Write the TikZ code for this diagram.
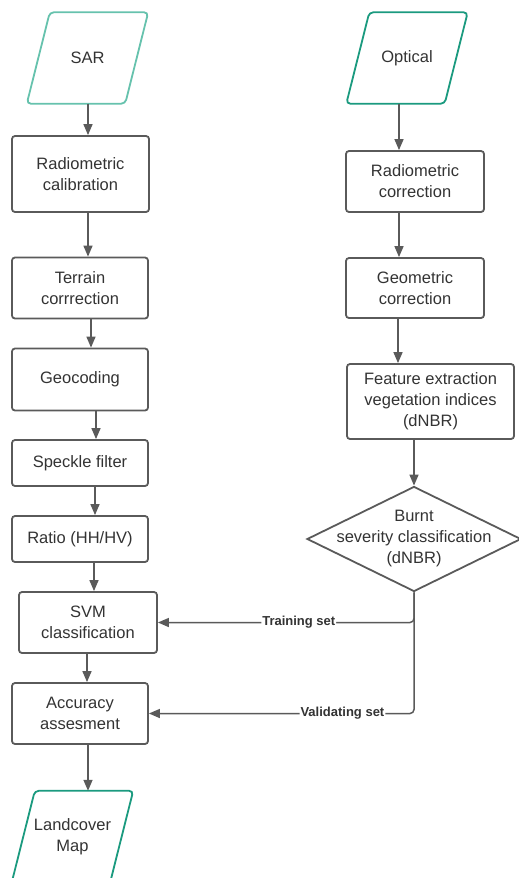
\documentclass[tikz,border=0pt]{standalone}
\usepackage{fontspec}
\setmainfont{Liberation Sans}
\usetikzlibrary{arrows.meta,shapes.geometric,positioning}

\definecolor{sarteal}{HTML}{66C2AD}
\definecolor{optteal}{HTML}{1B9A7F}
\definecolor{linegray}{HTML}{5A5A5A}
\definecolor{txtgray}{HTML}{333333}

% slanted input/output box round a named node
\newcommand\drawdata[2]{\draw [#2, line width=1.8pt, rounded corners=4pt]
    ([xshift=-11.5pt]#1.south west) -- ([xshift=11.5pt]#1.north west)
    -- ([xshift=11.5pt]#1.north east) -- ([xshift=-11.5pt]#1.south east) -- cycle;}

\begin{document}
\begin{tikzpicture}[x=1pt, y=-1pt,
        every node/.style={text=txtgray, font=\fontsize{16.5}{21}\selectfont},
        stepbox/.style={rectangle, draw=linegray, line width=1.8pt, rounded corners=3pt,
        align=center, inner sep=2pt},
        datain/.style={rectangle, minimum width=98pt, minimum height=91pt,
        align=center, inner sep=0pt},
        decision/.style={diamond, draw=linegray, line width=1.8pt, minimum width=214pt,
        minimum height=105pt, inner sep=0pt},
        arr/.style={draw=linegray, line width=1.5pt, -{Triangle[length=11pt,width=9pt]}},
        lbl/.style={fill=white, inner sep=1pt, font=\fontsize{13}{15}\bfseries\selectfont}]
    \useasboundingbox (0,0) rectangle (519,878);

    % SAR column
    \node [datain] (sar) at (87.5,58) {SAR};
    \node [stepbox, minimum width=137pt, minimum height=76pt] (cal) at (80.5,174) {Radiometric\\calibration};
    \node [stepbox, minimum width=136pt, minimum height=61pt] (ter) at (80,288) {Terrain\\corrrection};
    \node [stepbox, minimum width=136pt, minimum height=62pt] (geo) at (80,379.5) {Geocoding};
    \node [stepbox, minimum width=136pt, minimum height=46pt] (spk) at (80,463) {Speckle filter};
    \node [stepbox, minimum width=136pt, minimum height=46pt] (rat) at (80,539) {Ratio (HH/HV)};
    \node [stepbox, minimum width=138pt, minimum height=61pt] (svm) at (88,622.5) {SVM\\classification};
    \node [stepbox, minimum width=136pt, minimum height=61pt] (acc) at (80,713.5) {Accuracy\\assesment};
    \node [datain] (map) at (72.5,836.5) {Landcover\\Map};

    % Optical column
    \node [datain] (opt) at (407,58) {Optical};
    \node [stepbox, minimum width=138pt, minimum height=61pt] (rad) at (415,181.5) {Radiometric\\correction};
    \node [stepbox, minimum width=138pt, minimum height=60pt] (gmc) at (415,288) {Geometric\\correction};
    \node [stepbox, minimum width=167pt, minimum height=75pt] (feat) at (430.5,401.5) {Feature extraction\\vegetation indices\\(dNBR)};
    \node [decision] (sev) at (414,539) {};
    \node [align=center] (sevtext) at (sev.center) {Burnt\\severity classification\\(dNBR)};

    \drawdata{sar}{sarteal}
    \drawdata{opt}{optteal}
    \drawdata{map}{optteal}

    % arrows
    \draw [arr] ([xshift=7.5pt]cal.north |- sar.south) -- ([xshift=7.5pt]cal.north);
    \draw [arr] ([xshift=7.5pt]cal.south) -- ([xshift=7.5pt]cal.south |- ter.north);
    \draw [arr] ([xshift=11pt]ter.south) -- ([xshift=11pt]geo.north);
    \draw [arr] ([xshift=16pt]geo.south) -- ([xshift=16pt]spk.north);
    \draw [arr] ([xshift=15pt]spk.south) -- ([xshift=15pt]rat.north);
    \draw [arr] ([xshift=14pt]rat.south) -- ([xshift=14pt]rat.south |- svm.north);
    \draw [arr] ([xshift=-1pt]svm.south) -- ([xshift=-1pt]svm.south |- acc.north);
    \draw [arr] ([xshift=8pt]acc.south) -- ([xshift=8pt]acc.south |- map.north);

    \draw [arr] ([xshift=-16pt]rad.north |- opt.south) -- ([xshift=-16pt]rad.north);
    \draw [arr] ([xshift=-16pt]rad.south) -- ([xshift=-16pt]gmc.north);
    \draw [arr] ([xshift=-17pt]gmc.south) -- ([xshift=-17pt]gmc.south |- feat.north);
    \draw [arr] (sev.north |- feat.south) -- (sev.north);

    \draw [arr, rounded corners=4pt] (sev.south) -- (sev.south |- svm.east)
        -- node [lbl, pos=.45] {Training set} (svm.east);
    \draw [arr, rounded corners=4pt] (sev.south) -- (sev.south |- acc.east)
        -- node [lbl, pos=.27] {Validating set} (acc.east);
\end{tikzpicture}
\end{document}
